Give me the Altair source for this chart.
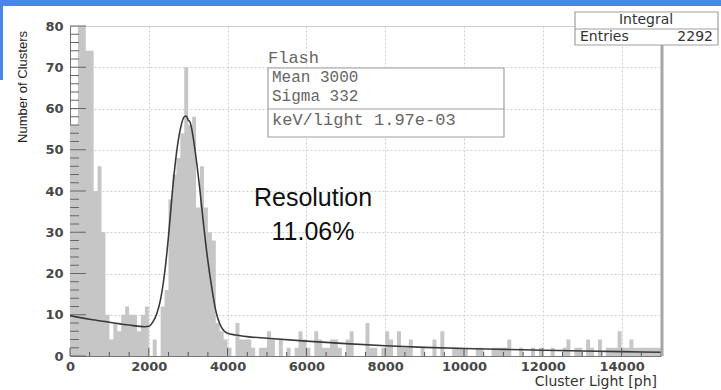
import altair as alt
import pandas as pd

# ---------------------------------------------------------------------------
# Cluster light spectrum, 100 ph bins from 0 to 15000 ph
# ---------------------------------------------------------------------------
bin_low = list(range(0, 15000, 100))
counts = [
    # 0 - 1900
    56, 56, 96, 92, 74, 74, 40, 46, 30, 10,
    4, 8, 6, 10, 12, 10, 10, 6, 10, 12,
    # 2000 - 3900
    0, 4, 0, 12, 16, 38, 44, 48, 54, 70,
    56, 58, 36, 46, 36, 30, 28, 8, 6, 4,
    # 4000 - 5900
    2, 0, 8, 4, 4, 4, 2, 0, 2, 2,
    6, 4, 0, 4, 0, 2, 0, 2, 6, 4,
    # 6000 - 7900
    2, 0, 6, 4, 2, 2, 4, 4, 2, 0,
    4, 6, 0, 0, 0, 8, 2, 2, 0, 2,
    # 8000 - 9900
    6, 4, 0, 6, 2, 2, 4, 0, 0, 2,
    0, 0, 4, 0, 6, 0, 0, 2, 2, 2,
    # 10000 - 11900
    2, 0, 0, 2, 2, 0, 0, 2, 2, 2,
    2, 4, 0, 0, 2, 0, 0, 2, 0, 2,
    # 12000 - 13900
    0, 0, 2, 0, 0, 2, 4, 0, 2, 2,
    0, 4, 2, 0, 4, 0, 2, 2, 2, 6,
    # 14000 - 14900
    2, 2, 4, 2, 2, 2, 2, 2, 2, 2,
]
BIN_WIDTH = 100

# Fitted photo-peak + exponential background, sampled along the curve
fit_x = [0, 500, 1000, 1500, 1900, 2000, 2100, 2200, 2300, 2400, 2500, 2600,
         2700, 2800, 2900, 2950, 3000, 3050, 3100, 3200, 3300, 3400, 3500,
         3600, 3700, 3800, 3900, 4000, 4200, 4500, 5000, 6000, 7000, 8000,
         9000, 10000, 11000, 12000, 13000, 14000, 15000]
fit_y = [9.8, 8.9, 8.2, 7.5, 7.1, 7.2, 8.2, 10.2, 13.8, 20.0, 29.0, 40.0,
         49.0, 55.0, 58.0, 58.2, 57.2, 56.6, 54.5, 48.0, 40.0, 31.0, 23.0,
         16.5, 11.0, 7.8, 6.2, 5.5, 5.1, 4.7, 4.3, 3.6, 3.0, 2.5,
         2.1, 1.8, 1.6, 1.4, 1.2, 1.05, 0.9]

# Axis labels and tick positions
x_labels = list(range(0, 15000, 2000))
y_labels = list(range(0, 81, 10))
x_minor = [v for v in range(0, 15001, 500) if v % 2000]
y_minor = [v for v in range(0, 81, 2) if v % 10]

# Fit summary
fit_name = "Flash"
fit_mean = 3000
fit_sigma = 332
kev_per_light = "1.97e-03"
entries = 2292
resolution = "11.06%"

W, H = 591, 330
X_DOMAIN = [0, 15000]
Y_DOMAIN = [0, 80]
BAR_GREY = "#c6c6c6"

# step outline of the histogram: one point per bin edge, last bin closed
hist = pd.DataFrame({
    "edge": bin_low + [bin_low[-1] + BIN_WIDTH],
    "count": counts + [counts[-1]],
})
fit = pd.DataFrame({"x": fit_x, "y": fit_y})
one = pd.DataFrame({"k": [0]})

xs = alt.Scale(domain=X_DOMAIN, nice=False, zero=False)
ys = alt.Scale(domain=Y_DOMAIN, nice=False)

label_style = dict(labelFont="DejaVu Sans", labelFontSize=13, labelFontWeight="bold",
                   labelColor="#484848", ticks=False, domainColor="#777777",
                   gridColor="#cfcfcf", gridDash=[2, 2], labelFlush=False,
                   labelOverlap=False, title=None)

# filled histogram drawn as a single stepped area
bars = alt.Chart(hist).mark_area(interpolate="step-after", color=BAR_GREY,
                                 clip=True).encode(
    x=alt.X("edge:Q", scale=xs, axis=alt.Axis(values=x_labels, format="d",
                                              labelPadding=4, **label_style)),
    y=alt.Y("count:Q", scale=ys, axis=alt.Axis(values=y_labels, format="d",
                                               labelPadding=7, **label_style)),
    y2=alt.datum(0),
)

curve = alt.Chart(fit).mark_line(interpolate="monotone", color="#3a3a3a",
                                 strokeWidth=1.6).encode(
    x=alt.X("x:Q", scale=xs), y=alt.Y("y:Q", scale=ys))


def xticks(values, length):
    return alt.Chart(pd.DataFrame({"v": values})).mark_rule(
        color="#555555", strokeWidth=1).encode(
        x=alt.X("v:Q", scale=xs), y=alt.value(H), y2=alt.value(H - length))


def yticks(values, length):
    return alt.Chart(pd.DataFrame({"v": values})).mark_rule(
        color="#666666", strokeWidth=1).encode(
        y=alt.Y("v:Q", scale=ys), x=alt.value(0), x2=alt.value(length))


def box(x1, y1, x2, y2, fill, stroke=None, sw=1):
    kw = dict(fill=fill)
    if stroke:
        kw.update(stroke=stroke, strokeWidth=sw)
    return alt.Chart(one).mark_rect(**kw).encode(
        x=alt.value(x1), x2=alt.value(x2), y=alt.value(y1), y2=alt.value(y2))


def hline(x1, x2, y, color="#999999", sw=1):
    return alt.Chart(one).mark_rule(color=color, strokeWidth=sw).encode(
        x=alt.value(x1), x2=alt.value(x2), y=alt.value(y))


def vline(x, y1, y2, color="#999999", sw=1):
    return alt.Chart(one).mark_rule(color=color, strokeWidth=sw).encode(
        x=alt.value(x), y=alt.value(y1), y2=alt.value(y2))


def text(s, x, y, size, font="DejaVu Sans", color="#333333", align="left",
         baseline="alphabetic", weight="normal", angle=0):
    kw = dict(align=align, baseline=baseline, font=font, fontSize=size,
              color=color, fontWeight=weight)
    if angle:
        kw["angle"] = angle
    return alt.Chart(one).mark_text(**kw).encode(
        x=alt.value(x), y=alt.value(y), text=alt.value(s))


mono = "Liberation Mono"
layers = [
    bars,
    curve,
    xticks(x_labels, 8),
    xticks(x_minor, 4),
    yticks(y_labels, 16),
    yticks(y_minor, 9),
    # frame shadow on the right
    vline(592, 19, H, color="#a6a6a6", sw=3),
    # fit box
    text(fit_name, 198, 37, 17, font=mono, color="#666666"),
    box(198, 42, 434, 111, "white", "#a0a0a0", 1.2),
    text(f"Mean {fit_mean}", 202, 56, 16, font=mono, color="#666666"),
    text(f"Sigma {fit_sigma}", 202, 75, 16, font=mono, color="#666666"),
    hline(198, 434, 83, color="#a0a0a0", sw=1.2),
    text(f"keV/light {kev_per_light}", 202, 99, 17, font=mono, color="#666666"),
    # statistics box
    box(505, -14, 648, 19, "white", "#a0a0a0", 1.2),
    hline(505, 648, 3, color="#a0a0a0", sw=1.2),
    text("Integral", 576, -2, 14, align="center", color="#333333"),
    text("Entries", 510, 15, 14, color="#333333"),
    text(str(entries), 643, 15, 14, align="right", color="#333333"),
    # energy resolution annotation
    text("Resolution", 243, 180, 25, font="Liberation Sans", color="#111111",
         align="center"),
    text(resolution, 243, 214, 25, font="Liberation Sans", color="#111111",
         align="center"),
    # axis titles
    text("Number of Clusters", -47, 61, 13, font="Liberation Sans",
         color="#222222", align="center", baseline="middle", angle=270),
    text("Cluster Light [ph]", 587, 360, 14, color="#333333", align="right"),
    # slide accent
    box(-70, -26, 651, -20, "#4a86e8"),
    box(-70, -26, -67, 54, "#4a86e8"),
]

chart = alt.layer(*layers).properties(
    width=W, height=H,
    autosize=alt.AutoSizeParams(type="none"),
    padding={"left": 70, "top": 26, "right": 60, "bottom": 34},
    background="white",
).configure_view(stroke="#cccccc", strokeWidth=1)

chart.save("out.html", embed_options={"renderer": "svg", "actions": False})
